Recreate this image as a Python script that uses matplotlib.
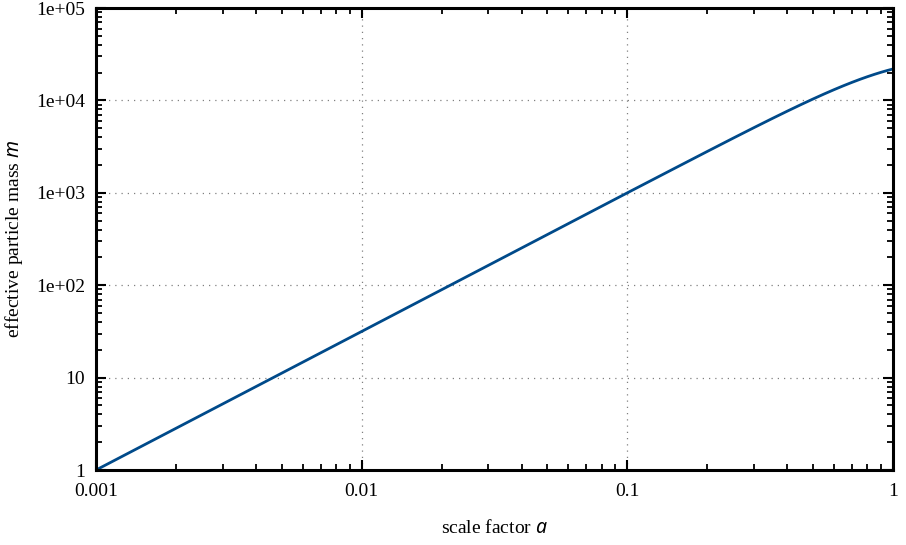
import matplotlib
matplotlib.use("Agg")
import matplotlib.pyplot as plt
from matplotlib.ticker import FixedLocator, FixedFormatter, LogLocator, NullFormatter

plt.rcParams['font.family'] = ['Liberation Serif', 'DejaVu Serif']
plt.rcParams['mathtext.fontset'] = 'custom'
plt.rcParams['mathtext.it'] = 'Noto Sans:italic'
plt.rcParams['mathtext.rm'] = 'Liberation Serif'

# scale factor a and effective particle mass m
scale_factor = [0.001, 0.01, 0.1, 0.15, 0.2, 0.25, 0.3, 0.35, 0.4, 0.45, 0.5,
                0.55, 0.6, 0.65, 0.7, 0.75, 0.8, 0.85, 0.9, 0.95, 1.0]
mass = [1.0, 31.6, 1000, 1830, 2806, 3899, 5085, 6344, 7656, 9003, 10366,
        11731, 13078, 14395, 15668, 16888, 18042, 19126, 20132, 21057, 21900]

xticks = [0.001, 0.01, 0.1, 1]
xtick_labels = ['0.001', '0.01', '0.1', '1']
yticks = [1, 10, 100, 1e3, 1e4, 1e5]
ytick_labels = ['1', '10', '1e+02', '1e+03', '1e+04', '1e+05']

fig = plt.figure(figsize=(9.06, 5.45), dpi=100)
ax = fig.add_axes([0.106, 0.1376, 0.8797, 0.8477])

ax.plot(scale_factor, mass, color='#004a8a', lw=2.0)
ax.set_xscale('log')
ax.set_yscale('log')
ax.set_xlim(0.001, 1)
ax.set_ylim(1, 1e5)

ax.xaxis.set_major_locator(FixedLocator(xticks))
ax.xaxis.set_major_formatter(FixedFormatter(xtick_labels))
ax.yaxis.set_major_locator(FixedLocator(yticks))
ax.yaxis.set_major_formatter(FixedFormatter(ytick_labels))
ax.xaxis.set_minor_locator(LogLocator(base=10, subs=range(2, 10), numticks=20))
ax.yaxis.set_minor_locator(LogLocator(base=10, subs=range(2, 10), numticks=20))
ax.xaxis.set_minor_formatter(NullFormatter())
ax.yaxis.set_minor_formatter(NullFormatter())

ax.tick_params(which='both', direction='in', top=True, right=True, labelsize=14)
ax.tick_params(which='major', length=7, width=1.5)
ax.tick_params(which='minor', length=4, width=1.3)
ax.tick_params(axis='x', which='major', pad=9)
ax.tick_params(axis='y', which='major', pad=8)

for s in ax.spines.values():
    s.set_linewidth(2.2)

ax.grid(True, which='major', color='#808080', linestyle=(0, (1, 4)), lw=0.9)

ax.set_xlabel('scale factor $a$', fontsize=14, labelpad=14)
ax.set_ylabel('effective particle mass $m$', fontsize=14, labelpad=8)

fig.savefig('out.png', dpi=100)
